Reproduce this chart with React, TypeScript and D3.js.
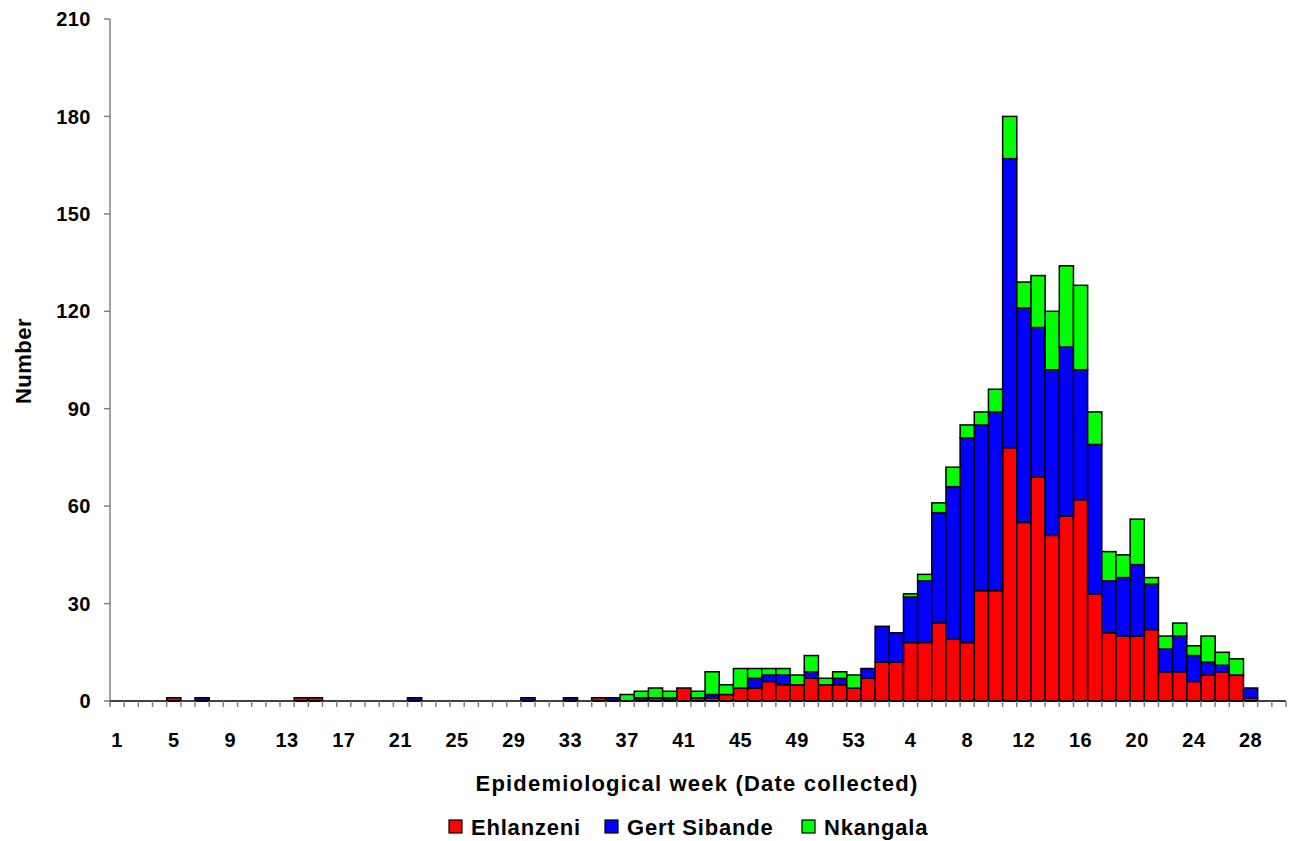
import React, { useEffect, useRef } from 'react';
import * as d3 from 'd3';

// Week labels: 53 weeks of year one, then weeks 1-30 of year two
const weeks: string[] = [
  '1', '2', '3', '4', '5', '6', '7', '8', '9', '10', '11', '12', '13', '14', '15', '16', '17', '18',
  '19', '20', '21', '22', '23', '24', '25', '26', '27', '28', '29', '30', '31', '32', '33', '34', '35',
  '36', '37', '38', '39', '40', '41', '42', '43', '44', '45', '46', '47', '48', '49', '50', '51', '52', '53',
  '1', '2', '3', '4', '5', '6', '7', '8', '9', '10', '11', '12', '13', '14', '15', '16', '17', '18',
  '19', '20', '21', '22', '23', '24', '25', '26', '27', '28', '29', '30',
];

const ehlanzeni: number[] = [
  0, 0, 0, 0, 1, 0, 0, 0, 0, 0,
  0, 0, 0, 1, 1, 0, 0, 0, 0, 0,
  0, 0, 0, 0, 0, 0, 0, 0, 0, 0,
  0, 0, 0, 0, 1, 0, 0, 0, 1, 0,
  4, 1, 1, 2, 4, 4, 6, 5, 5, 7,
  5, 5, 4,
  7, 12, 12, 18, 18, 24, 19, 18, 34, 34,
  78, 55, 69, 51, 57, 62, 33, 21, 20, 20,
  22, 9, 9, 6, 8, 9, 8, 1, 0, 0,
];

const gertSibande: number[] = [
  0, 0, 0, 0, 0, 0, 1, 0, 0, 0,
  0, 0, 0, 0, 0, 0, 0, 0, 0, 0,
  0, 1, 0, 0, 0, 0, 0, 0, 0, 1,
  0, 0, 1, 0, 0, 1, 0, 1, 0, 1,
  0, 0, 1, 0, 0, 3, 2, 3, 0, 2,
  0, 2, 0,
  3, 11, 9, 14, 19, 34, 47, 63, 51, 55,
  89, 66, 46, 51, 52, 40, 46, 16, 18, 22,
  14, 7, 11, 8, 4, 2, 0, 3, 0, 0,
];

const nkangala: number[] = [
  0, 0, 0, 0, 0, 0, 0, 0, 0, 0,
  0, 0, 0, 0, 0, 0, 0, 0, 0, 0,
  0, 0, 0, 0, 0, 0, 0, 0, 0, 0,
  0, 0, 0, 0, 0, 0, 2, 2, 3, 2,
  0, 2, 7, 3, 6, 3, 2, 2, 3, 5,
  2, 2, 4,
  0, 0, 0, 1, 2, 3, 6, 4, 4, 7,
  13, 8, 16, 18, 25, 26, 10, 9, 7, 14,
  2, 4, 4, 3, 8, 4, 5, 0, 0, 0,
];

const seriesNames = ['Ehlanzeni', 'Gert Sibande', 'Nkangala'];
const seriesColors = ['#ff0000', '#0000ff', '#00ff00'];
const yTicks = [0, 30, 60, 90, 120, 150, 180, 210];

const FONT = '"Liberation Sans", Arial, Helvetica, sans-serif';

const App: React.FC = () => {
  const ref = useRef<SVGSVGElement>(null);

  useEffect(() => {
    if (!ref.current) return;
    const svg = d3.select(ref.current);
    svg.selectAll('*').remove();

    const left = 110;
    const right = 1286;
    const top = 19;
    const bottom = 701;

    const idx = weeks.map((_, i) => i);
    const x = d3.scaleBand<number>().domain(idx).range([left, right]).padding(0);
    const y = d3.scaleLinear().domain([0, 210]).range([bottom, top]);

    const rows = idx.map((i) => ({
      i,
      a: ehlanzeni[i],
      b: gertSibande[i],
      c: nkangala[i],
    }));
    const stack = d3.stack<any>().keys(['a', 'b', 'c']);
    const layers = stack(rows);

    // Bars
    layers.forEach((layer, k) => {
      svg.append('g')
        .selectAll('rect')
        .data(layer.filter((d) => d[1] - d[0] > 0))
        .join('rect')
        .attr('x', (d) => x(d.data.i)!)
        .attr('y', (d) => y(d[1]))
        .attr('width', x.bandwidth())
        .attr('height', (d) => y(d[0]) - y(d[1]))
        .attr('fill', seriesColors[k])
        .attr('stroke', '#000')
        .attr('stroke-width', 1.5);
    });

    const txt = (sel: any, size: number, spacing = 0) =>
      sel.style('font-family', FONT)
        .style('font-size', `${size}px`)
        .style('font-weight', 'bold')
        .style('letter-spacing', `${spacing}px`)
        .attr('fill', '#000');

    // Y axis
    svg.append('line')
      .attr('x1', left).attr('x2', left)
      .attr('y1', top).attr('y2', bottom)
      .attr('stroke', '#808080').attr('stroke-width', 1.5);
    yTicks.forEach((t) => {
      svg.append('line')
        .attr('x1', left - 6).attr('x2', left)
        .attr('y1', y(t)).attr('y2', y(t))
        .attr('stroke', '#808080').attr('stroke-width', 1.5);
      txt(svg.append('text')
        .attr('x', 91)
        .attr('y', y(t))
        .attr('dy', '0.36em')
        .attr('text-anchor', 'end'), 20, 0.5)
        .text(String(t));
    });

    // X axis
    svg.append('line')
      .attr('x1', left).attr('x2', right)
      .attr('y1', bottom).attr('y2', bottom)
      .attr('stroke', '#000').attr('stroke-width', 1.5);
    const boundaries = [...idx.map((i) => x(i)!), right];
    boundaries.forEach((bx) => {
      svg.append('line')
        .attr('x1', bx).attr('x2', bx)
        .attr('y1', bottom).attr('y2', bottom + 6)
        .attr('stroke', '#808080').attr('stroke-width', 1.5);
    });
    idx.filter((i) => i % 4 === 0).forEach((i) => {
      txt(svg.append('text')
        .attr('x', x(i)! + x.bandwidth() / 2)
        .attr('y', 747)
        .attr('text-anchor', 'middle'), 20, 0.5)
        .text(weeks[i]);
    });

    // Axis titles
    txt(svg.append('text')
      .attr('x', 697)
      .attr('y', 791)
      .attr('text-anchor', 'middle'), 22, 1.2)
      .text('Epidemiological week (Date collected)');

    txt(svg.append('text')
      .attr('transform', 'translate(31,361) rotate(-90)')
      .attr('text-anchor', 'middle'), 22, 0.5)
      .text('Number');

    // Legend
    const legendY = 827;
    const legendX = [449, 605, 802];
    seriesNames.forEach((name, k) => {
      svg.append('rect')
        .attr('x', legendX[k])
        .attr('y', legendY - 7)
        .attr('width', 13)
        .attr('height', 13)
        .attr('fill', seriesColors[k])
        .attr('stroke', '#000')
        .attr('stroke-width', 1.2);
      txt(svg.append('text')
        .attr('x', legendX[k] + 22)
        .attr('y', legendY)
        .attr('dy', '0.36em'), 22, 0.8)
        .text(name);
    });
  }, []);

  return (
    <svg
      ref={ref}
      width={1294}
      height={841}
      style={{ position: 'absolute', left: 0, top: 0, background: '#fff', display: 'block' }}
    />
  );
};

export default App;
